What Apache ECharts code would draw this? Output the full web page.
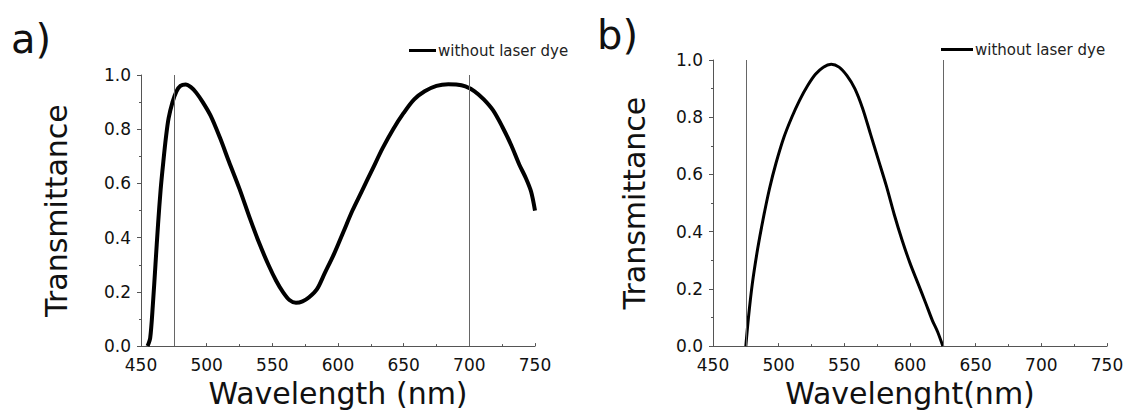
<!DOCTYPE html>
<html>
<head>
<meta charset="utf-8">
<script src="https://cdn.jsdelivr.net/npm/echarts@6/dist/echarts.min.js"></script>
<style>
html,body{margin:0;padding:0;background:#fff;}
#chart{width:1130px;height:413px;}
</style>
</head>
<body>
<div id="chart"></div>
<script>
// Panel a: wavelength (nm), transmittance
const waveA = [455,457,459,461,463,465,467,469,471,474,477,480,484,488,492,497,503,510,517,525,533,540,547,553,558,563,568,573,578,584,590,597,604,611,618,626,634,642,650,658,666,675,684,690,697,704,711,718,725,732,738,743,747,750];
const transA = [0,0.03,0.15,0.3,0.45,0.58,0.68,0.77,0.84,0.9,0.94,0.96,0.965,0.955,0.935,0.9,0.85,0.77,0.68,0.58,0.47,0.38,0.3,0.24,0.2,0.17,0.16,0.165,0.18,0.21,0.27,0.34,0.42,0.5,0.57,0.65,0.73,0.8,0.86,0.91,0.94,0.96,0.966,0.965,0.958,0.94,0.91,0.87,0.81,0.74,0.67,0.62,0.57,0.5];
// Panel b
const waveB = [475,477,480,484,488,493,498,504,510,516,522,528,534,540,546,552,558,564,570,576,582,588,594,600,606,612,617,621,625];
const transB = [0,0.1,0.22,0.34,0.44,0.55,0.64,0.73,0.8,0.86,0.91,0.95,0.975,0.985,0.975,0.945,0.9,0.83,0.74,0.65,0.56,0.46,0.37,0.29,0.22,0.15,0.09,0.05,0];
const refLinesA = [475, 700];
const refLinesB = [475, 625];
const seriesName = 'without laser dye';
const panelLabels = ['a)', 'b)'];
const xTitles = ['Wavelength (nm)', 'Wavelenght(nm)'];
const yTitle = 'Transmittance';

const FONT = 'DejaVu Sans';
const axisColor = '#555';
function pairs(xs, ys){ return xs.map((x,i)=>[x, ys[i]]); }

function xAxis(gi, name){
  return {
    type:'value', gridIndex:gi, min:450, max:750, interval:50,
    name:name, nameLocation:'middle', nameGap:28,
    nameTextStyle:{fontFamily:FONT, fontSize:30, color:'#111'},
    axisLine:{show:true, lineStyle:{color:axisColor, width:1}},
    axisTick:{show:true, inside:true, length:3, lineStyle:{color:axisColor}},
    minorTick:{show:true, splitNumber:2, length:2, lineStyle:{color:axisColor}},
    axisLabel:{fontFamily:FONT, fontSize:17, color:'#111', margin:10},
    splitLine:{show:false}
  };
}
function yAxis(gi, gap){
  return {
    type:'value', gridIndex:gi, min:0, max:1, interval:0.2,
    name:yTitle, nameLocation:'middle', nameGap:gap, nameRotate:90,
    nameTextStyle:{fontFamily:FONT, fontSize:30, color:'#111'},
    axisLine:{show:true, lineStyle:{color:axisColor, width:1}},
    axisTick:{show:true, inside:false, length:4, lineStyle:{color:axisColor}},
    minorTick:{show:true, splitNumber:2, length:2, lineStyle:{color:axisColor}},
    axisLabel:{fontFamily:FONT, fontSize:17, color:'#111', margin:10, formatter:v=>v.toFixed(1)},
    splitLine:{show:false}
  };
}
function refMark(vals){
  return {
    silent:true, symbol:'none', label:{show:false},
    lineStyle:{color:'#666', width:1, type:'solid'},
    data: vals.map(v=>({xAxis:v}))
  };
}

const chart = echarts.init(document.getElementById('chart'), null, {renderer:'svg'});
chart.setOption({
  backgroundColor:'#fff',
  animation:false,
  title:[
    {text:panelLabels[0], left:6, top:14, textStyle:{fontFamily:FONT, fontSize:40, fontWeight:'normal', color:'#111'}},
    {text:panelLabels[1], left:592, top:10, textStyle:{fontFamily:FONT, fontSize:40, fontWeight:'normal', color:'#111'}}
  ],
  legend:[
    {left:404, top:38, data:[seriesName], icon:'rect', itemWidth:27, itemHeight:3, itemGap:2,
     textStyle:{fontFamily:FONT, fontSize:15, color:'#222', padding:[0,0,0,-3]}},
    {left:936, top:37, data:[seriesName], icon:'rect', itemWidth:32, itemHeight:3, itemGap:2,
     textStyle:{fontFamily:FONT, fontSize:15, color:'#222', padding:[0,0,0,-3]}}
  ],
  grid:[
    {left:141, top:75, width:394, height:278},
    {left:713, top:60, width:394, height:290}
  ],
  xAxis:[xAxis(0, xTitles[0]), xAxis(1, xTitles[1])],
  yAxis:[yAxis(0, 70), yAxis(1, 64)],
  series:[
    {name:seriesName, type:'line', xAxisIndex:0, yAxisIndex:0, data:pairs(waveA, transA),
     showSymbol:false, smooth:0.3, lineStyle:{color:'#000', width:4}, itemStyle:{color:'#000'},
     markLine:refMark(refLinesA)},
    {name:seriesName, type:'line', xAxisIndex:1, yAxisIndex:1, data:pairs(waveB, transB),
     showSymbol:false, smooth:0.3, lineStyle:{color:'#000', width:3}, itemStyle:{color:'#000'},
     markLine:refMark(refLinesB)}
  ]
});
</script>
</body>
</html>
